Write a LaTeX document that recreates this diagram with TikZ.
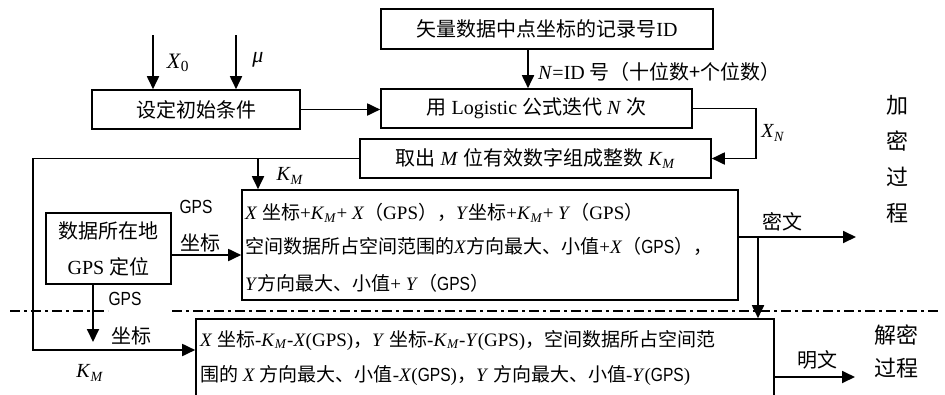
\documentclass[tikz,border=0pt]{standalone}
\usepackage{fontspec}
\usetikzlibrary{arrows.meta}
\setmainfont{Liberation Serif}
\newfontfamily\zhfont{Noto Sans CJK SC}
\newfontfamily\gpsfont[FakeStretch=0.82]{Liberation Sans}
\newcommand\zh[1]{{\zhfont #1}}
\newcommand\gps{\gpsfont}
\newcommand\KM{\textit{K}\textsubscript{\textit{M}}}
\newcommand\fs{\fontsize{19}{24}\selectfont}
\newcommand\fb{\fontsize{20}{24}\selectfont}
\newcommand\fl{\fontsize{22}{26}\selectfont}
\tikzset{
  box/.style={draw, line width=1.6pt, inner sep=0pt, font=\fb, align=center},
  arr/.style={line width=1.8pt, -{Triangle[length=13pt,width=12pt]}},
  ln/.style={line width=1.8pt},
  lbl/.style={inner sep=0pt, font=\fb},
  txt/.style={inner sep=0pt, font=\fs},
  big/.style={inner sep=0pt, font=\fl},
  dd/.style={line width=1.4pt, dash pattern=on 10pt off 4pt on 3pt off 4pt},
}
\begin{document}
\begin{tikzpicture}[x=1pt,y=-1pt]
\useasboundingbox (0,0) rectangle (945,394);
% boxes
\node[box, minimum width=208pt, minimum height=39pt] (A) at (196,109.5) {\zh{设定初始条件}};
\node[box, minimum width=332pt, minimum height=40pt] (B) at (547,29) {\zh{矢量数据中点坐标的记录号}ID};
\node[box, minimum width=311pt, minimum height=39pt] (C) at (536.5,108.5) {\zh{用} Logistic \zh{公式迭代} \textit{N} \zh{次}};
\node[box, minimum width=351pt, minimum height=39pt] (D) at (535.5,158.5) {\zh{取出} \textit{M} \zh{位有效数字组成整数} \KM};
\node[box, minimum width=496pt, minimum height=110pt] (E) at (490,245) {};
\node[box, minimum width=125pt, minimum height=71pt, font=\fontsize{20}{36}\selectfont] (F) at (108.5,248.5) {\zh{数据所在地}\\GPS \zh{定位}};
\node[box, minimum width=578pt, minimum height=80pt] (G) at (485,359) {};
% text in E
\node[txt, anchor=west] (e1) at (245,213) {\textit{X} \zh{坐标}+\KM+ \textit{X}\zh{（}GPS\zh{），}\textit{Y}\zh{坐标}+\KM+ \textit{Y}\zh{（}GPS\zh{）}};
\node[txt, anchor=west] (e2) at (245,246) {\zh{空间数据所占空间范围的}\textit{X}\zh{方向最大、小值}+\textit{X}\zh{（}{\gps GPS}\zh{），}};
\node[txt, anchor=west] (e3) at (245,283) {\textit{Y}\zh{方向最大、小值}+ \textit{Y}\zh{（}{\gps GPS}\zh{）}};
% text in G
\node[txt, anchor=west] (g1) at (200,340) {\textit{X} \zh{坐标}-\KM-\textit{X}(GPS)\zh{，}\textit{Y} \zh{坐标}-\KM-\textit{Y}(GPS)\zh{，空间数据所占空间范}};
\node[txt, anchor=west] (g2) at (200,375) {\zh{围的} \textit{X} \zh{方向最大、小值}-\textit{X}({\gps GPS})\zh{，}\textit{Y} \zh{方向最大、小值}-\textit{Y}({\gps GPS})};
% connectors
\coordinate (x0) at (153,35);
\coordinate (mu) at (236,35);
\draw[arr] (x0) -- (x0 |- A.north);
\draw[arr] (mu) -- (mu |- A.north);
\draw[arr] (A.east) -- (A.east -| C.west);
\coordinate (nx) at (528,0);
\draw[arr] (B.south -| nx) -- (C.north -| nx);
\coordinate (xr) at (756,0);
\draw[arr] (C.east) -- (C.east -| xr) -- (xr |- D.east) -- (D.east);
\coordinate (kl) at (33,0);
\coordinate (kd) at (258,0);
\coordinate (gk) at (0,350);
\draw[arr] (D.west) -- (D.west -| kl) -- (kl |- gk) -- (gk -| G.west);
\draw[arr] (D.west -| kd) -- (kd |- E.north);
\coordinate (fe) at (0,255);
\draw[arr] (fe -| F.east) -- (fe -| E.west);
\coordinate (fd) at (93,342);
\draw[arr] (F.south -| fd) -- (fd);
\coordinate (eo) at (856,237);
\draw[arr] (eo -| E.east) -- (eo);
\coordinate (ev) at (758,0);
\draw[arr] (ev |- eo) -- (ev |- G.north);
\coordinate (go) at (855,377);
\draw[arr] (go -| G.east) -- (go);
% dash-dot separator
\coordinate (d1) at (10,311);
\coordinate (d2) at (108,311);
\coordinate (d3) at (172,311);
\coordinate (d4) at (940,311);
\draw[dd] (d1) -- (d2) (d3) -- (d4);
% labels
\node[big] (lx0) at (178,63) {\textit{X}\textsubscript{0}};
\node[big] (lmu) at (258,60) {\textit{μ}};
\node[lbl, anchor=west] (lN) at (538,72) {\textit{N}=ID \zh{号（十位数+个位数）}};
\node[lbl] (lXN) at (773,133) {\textit{X}\textsubscript{\textit{N}}};
\node[lbl] (lK1) at (290,176) {\KM};
\node[txt] (lg1) at (196,207) {\gps GPS};
\node[lbl] (lg2) at (200,243) {\zh{坐标}};
\node[txt] (lg3) at (125,299) {\gps GPS};
\node[lbl] (lg4) at (131,336) {\zh{坐标}};
\node[lbl] (lK2) at (90,373) {\KM};
\node[lbl] (lmw) at (782,222) {\zh{密文}};
\node[lbl] (lpw) at (817,360) {\zh{明文}};
\node[big] (v1) at (897,105) {\zh{加}};
\node[big] (v2) at (897,141) {\zh{密}};
\node[big] (v3) at (897,177) {\zh{过}};
\node[big] (v4) at (897,213) {\zh{程}};
\node[big] (w1) at (896,335) {\zh{解密}};
\node[big] (w2) at (896,368) {\zh{过程}};
\end{tikzpicture}
\end{document}
